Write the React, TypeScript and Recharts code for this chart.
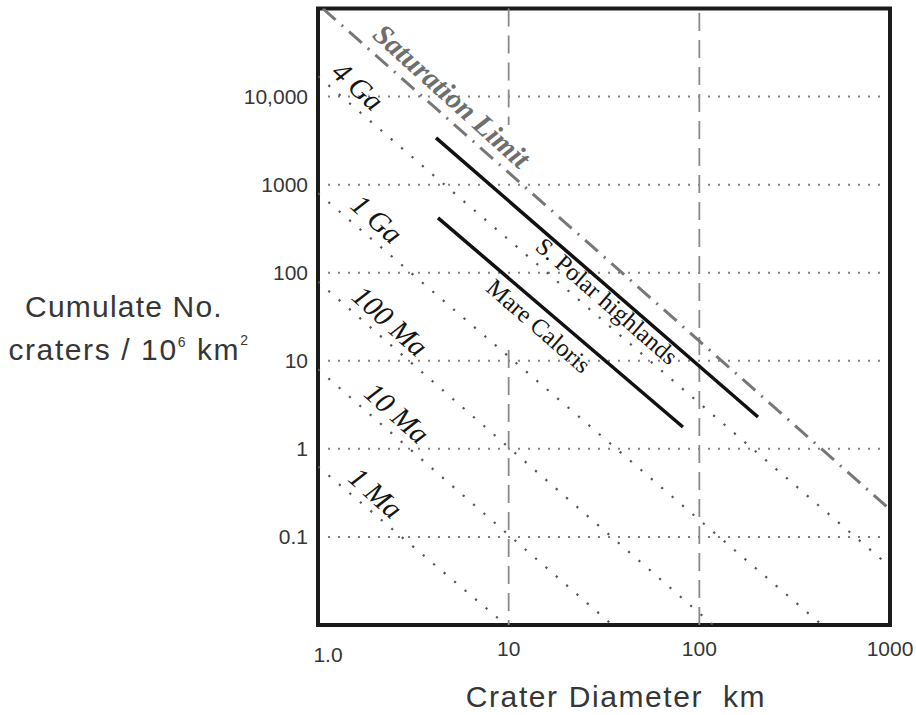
import React from 'react';
import {
  ComposedChart,
  Line,
  Scatter,
  XAxis,
  YAxis,
  CartesianGrid,
  ReferenceLine,
  ReferenceArea,
} from 'recharts';

// axis ticks
const xTicks = [1, 10, 100, 1000];
const yTicks = [0.1, 1, 10, 100, 1000, 10000];
const xTickLabels: Record<number, string> = { 1: '1.0', 10: '10', 100: '100', 1000: '1000' };
const yTickLabels: Record<number, string> = {
  0.1: '0.1',
  1: '1',
  10: '10',
  100: '100',
  1000: '1000',
  10000: '10,000',
};

// isochrons: crater diameter (km) vs cumulative craters / 10^6 km^2
const iso4Ga = [{ d: 1, n: 17000 }, { d: 908, n: 0.055 }];
const iso1Ga = [{ d: 1, n: 800 }, { d: 440, n: 0.01 }];
const iso100Ma = [{ d: 1, n: 79 }, { d: 118, n: 0.01 }];
const iso10Ma = [{ d: 1, n: 8 }, { d: 35, n: 0.01 }];
const iso1Ma = [{ d: 1, n: 0.63 }, { d: 9.7, n: 0.01 }];
const saturation = [{ d: 1.06, n: 100000 }, { d: 988, n: 0.21 }];

// measured surfaces
const polarHighlands = [{ d: 4.16, n: 3390 }, { d: 203, n: 2.3 }];
const mareCaloris = [{ d: 4.26, n: 419 }, { d: 82, n: 1.77 }];

// where the in-plot labels sit (data coordinates)
const labels = [
  { d: 5.04, n: 10170, text: 'Saturation Limit', kind: 'sat' },
  { d: 1.62, n: 13200, text: '4 Ga', kind: 'age' },
  { d: 2.04, n: 408, text: '1 Ga', kind: 'age' },
  { d: 2.39, n: 28.3, text: '100 Ma', kind: 'age' },
  { d: 2.6, n: 2.56, text: '10 Ma', kind: 'age' },
  { d: 2.01, n: 0.316, text: '1 Ma', kind: 'age' },
  { d: 32.8, n: 47.8, text: 'S. Polar highlands', kind: 'unit' },
  { d: 14.4, n: 24.9, text: 'Mare Caloris', kind: 'unit' },
];

const SANS = '"Liberation Sans", Arial, Helvetica, sans-serif';
const SERIF = '"Liberation Serif", "Times New Roman", serif';
const TEXT = '#363636';

const labelStyle: Record<string, any> = {
  sat: { fontSize: 29, fontStyle: 'italic', fontWeight: 'bold', fill: '#6e6e6e', angle: 42 },
  age: { fontSize: 29, fontStyle: 'italic', fontWeight: 'normal', fill: '#151515', angle: 42 },
  unit: { fontSize: 24.5, fontStyle: 'normal', fontWeight: 'normal', fill: '#151515', angle: 41 },
};

const LabelShape = (props: any) => {
  const { cx, cy, payload } = props;
  const s = labelStyle[payload.kind];
  return (
    <text
      x={cx}
      y={cy}
      textAnchor="middle"
      dominantBaseline="central"
      fontFamily={SERIF}
      fontSize={s.fontSize}
      fontStyle={s.fontStyle}
      fontWeight={s.fontWeight}
      fill={s.fill}
      transform={`rotate(${s.angle} ${cx} ${cy})`}
    >
      {payload.text}
    </text>
  );
};

const XTick = (props: any) => {
  const { x, y, payload } = props;
  const first = payload.value === 1;
  return (
    <text
      x={x + (first ? 10 : 0)}
      y={y + (first ? 37 : 30.5)}
      textAnchor="middle"
      fontFamily={SANS}
      fontSize={21}
      fill={TEXT}
    >
      {xTickLabels[payload.value]}
    </text>
  );
};

const isoProps = {
  type: 'linear' as const,
  dataKey: 'n',
  stroke: '#555',
  strokeWidth: 2.2,
  strokeDasharray: '2.2 11.5',
  dot: false,
  activeDot: false,
  isAnimationActive: false,
};

const solidProps = {
  type: 'linear' as const,
  dataKey: 'n',
  stroke: '#111',
  strokeWidth: 3.5,
  dot: false,
  activeDot: false,
  isAnimationActive: false,
};

export default function App() {
  return (
    <div style={{ position: 'relative', width: 916, height: 715, background: '#fff' }}>
      <style>{'html, body { margin: 0; padding: 0; overflow: hidden; }'}</style>
      <ComposedChart
        width={916}
        height={715}
        margin={{ top: 8.5, right: 26, bottom: 60, left: 0 }}
        style={{ overflow: 'visible' }}
      >
        <CartesianGrid
          vertical={false}
          stroke="#808080"
          strokeWidth={2}
          strokeDasharray="2 8"
        />
        <XAxis
          dataKey="d"
          type="number"
          scale="log"
          domain={[1, 1000]}
          ticks={xTicks}
          interval={0}
          allowDataOverflow
          height={30}
          axisLine={false}
          tickLine={false}
          tickSize={0}
          tickMargin={0}
          tick={<XTick />}
        />
        <YAxis
          type="number"
          scale="log"
          domain={[0.01, 100000]}
          ticks={yTicks}
          interval={0}
          allowDataOverflow
          width={318}
          axisLine={false}
          tickLine={false}
          tickSize={0}
          tickMargin={10}
          tickFormatter={(v: number) => yTickLabels[v] ?? ''}
          tick={{ fontSize: 21, fill: TEXT, fontFamily: SANS }}
        />

        <ReferenceLine
          segment={[{ x: 10, y: 100000 }, { x: 10, y: 4760 }]}
          stroke="#8a8a8a"
          strokeWidth={1.8}
          strokeDasharray="18 9"
        />
        <ReferenceLine
          segment={[{ x: 10, y: 13.3 }, { x: 10, y: 0.01 }]}
          stroke="#8a8a8a"
          strokeWidth={1.8}
          strokeDasharray="18 9"
        />
        <ReferenceLine
          segment={[{ x: 100, y: 89000 }, { x: 100, y: 0.01 }]}
          stroke="#8a8a8a"
          strokeWidth={1.8}
          strokeDasharray="18 9"
        />

        <Line data={iso4Ga} {...isoProps} />
        <Line data={iso1Ga} {...isoProps} />
        <Line data={iso100Ma} {...isoProps} />
        <Line data={iso10Ma} {...isoProps} />
        <Line data={iso1Ma} {...isoProps} />
        <Line
          data={saturation}
          type="linear"
          dataKey="n"
          stroke="#777"
          strokeWidth={3}
          strokeDasharray="17 8 2 8"
          dot={false}
          activeDot={false}
          isAnimationActive={false}
        />
        <Line data={polarHighlands} {...solidProps} />
        <Line data={mareCaloris} {...solidProps} />

        <Scatter data={labels} dataKey="n" shape={<LabelShape />} isAnimationActive={false} />

        <ReferenceArea
          x1={1}
          x2={1000}
          y1={0.01}
          y2={100000}
          fill="none"
          fillOpacity={0}
          stroke="#1b1b1b"
          strokeWidth={4}
          ifOverflow="visible"
        />
      </ComposedChart>

      <svg
        width={916}
        height={715}
        style={{ position: 'absolute', left: 0, top: 0, pointerEvents: 'none' }}
      >
        <text x={124} y={317} textAnchor="middle" fontFamily={SANS} fontSize={30} letterSpacing={1.2} fill={TEXT}>
          Cumulate No.
        </text>
        <text x={129} y={360} textAnchor="middle" fontFamily={SANS} fontSize={30} letterSpacing={1.6} fill={TEXT}>
          craters / 10
          <tspan fontSize={14} dy={-13}>6</tspan>
          <tspan dy={13}>{'\u00a0km'}</tspan>
          <tspan fontSize={14} dy={-15}>2</tspan>
        </text>
        <text x={616} y={707} textAnchor="middle" fontFamily={SANS} fontSize={30} letterSpacing={1.6} fill={TEXT}>
          {'Crater Diameter\u00a0\u00a0km'}
        </text>
      </svg>
    </div>
  );
}
